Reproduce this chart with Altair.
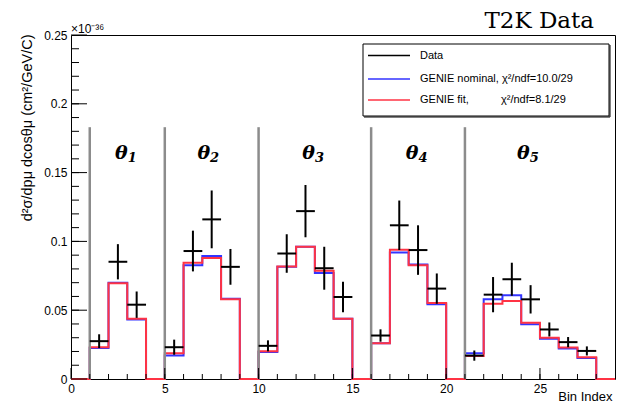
import altair as alt
import pandas as pd

# ---- data (units of 1e-36 cm^2/GeV/c) ----
bin_low = list(range(29))
data_val = [None, 0.0275, 0.0852, 0.0540, None,
            0.0231, 0.0930, 0.1160, 0.0815, None,
            0.0241, 0.0912, 0.1220, 0.0805, 0.0596, None,
            0.0316, 0.1117, 0.0937, 0.0657, None,
            0.0170, 0.0613, 0.0725, 0.0579, 0.0360, 0.0268, 0.0204, None]
data_err = [None, 0.0050, 0.0128, 0.0096, None,
            0.0055, 0.0148, 0.0210, 0.0130, None,
            0.0040, 0.0140, 0.0190, 0.0156, 0.0110, None,
            0.0045, 0.0180, 0.0180, 0.0110, None,
            0.0037, 0.0128, 0.0120, 0.0103, 0.0051, 0.0037, 0.0033, None]
nominal = [0, 0.0226, 0.0700, 0.0433, 0,
           0.0170, 0.0827, 0.0893, 0.0584, 0,
           0.0197, 0.0815, 0.0961, 0.0771, 0.0438, 0,
           0.0260, 0.0920, 0.0832, 0.0543, 0,
           0.0187, 0.0579, 0.0608, 0.0397, 0.0292, 0.0221, 0.0153, 0]
fit = [0, 0.0231, 0.0696, 0.0438, 0,
       0.0187, 0.0844, 0.0880, 0.0580, 0,
       0.0202, 0.0818, 0.0961, 0.0786, 0.0438, 0,
       0.0260, 0.0939, 0.0827, 0.0552, 0,
       0.0168, 0.0547, 0.0567, 0.0409, 0.0299, 0.0229, 0.0158, 0]
separators = [1, 5, 10, 16, 21]
separator_top = 0.183
theta_symbol = ["θ", "θ", "θ", "θ", "θ"]
theta_index = ["1", "2", "3", "4", "5"]
theta_x = [2.97, 7.36, 12.95, 18.47, 24.4]
theta_y = 0.160
x_major = [0, 5, 10, 15, 20, 25]
x_minor = list(range(1, 29))
y_major = [0, 0.05, 0.10, 0.15, 0.20, 0.25]
y_minor = [i / 100 for i in range(1, 25)]
legend_labels = ["Data", "GENIE nominal, χ²/ndf=10.0/29", "GENIE fit,"]
legend_extra = "χ²/ndf=8.1/29"

W, H = 544, 344
xs = alt.Scale(domain=[0, 29], nice=False, zero=False)
ys = alt.Scale(domain=[0, 0.25], nice=False)

edges = bin_low + [29]
hist = pd.DataFrame({
    "x": edges,
    "nominal": nominal + [nominal[-1]],
    "fit": fit + [fit[-1]],
})

pts = pd.DataFrame({"lo": bin_low, "val": data_val, "err": data_err}).dropna()
pts["hi"] = pts["lo"] + 1
pts["c"] = pts["lo"] + 0.5
pts["ylo"] = pts["val"] - pts["err"]
pts["yhi"] = pts["val"] + pts["err"]

xaxis = alt.Axis(values=x_major, format="d", ticks=False, domain=False, grid=False,
                 labelFont="Liberation Sans", labelFontSize=12, labelColor="black",
                 labelPadding=4, labelFlush=False,
                 title="Bin Index", titleFont="Liberation Sans", titleFontSize=13,
                 titleFontWeight="normal", titleColor="black",
                 titleAlign="right", titleBaseline="alphabetic", titleX=541, titleY=21)
yaxis = alt.Axis(values=y_major, format="~g", ticks=False, domain=False, grid=False,
                 labelFont="Liberation Sans", labelFontSize=12, labelColor="black",
                 labelPadding=4,
                 title="d²σ/dpμ dcosθμ (cm²/GeV/C)", titleFont="Liberation Sans",
                 titleFontSize=14.5, titleFontWeight="normal", titleColor="black",
                 titleAngle=270, titleAlign="right", titleBaseline="alphabetic",
                 titleX=-40, titleY=-1)

base = alt.Chart(hist)

blue = base.mark_line(interpolate="step-after", color="#3333ff", strokeWidth=2).encode(
    x=alt.X("x:Q", scale=xs, axis=xaxis),
    y=alt.Y("nominal:Q", scale=ys, axis=yaxis),
)
red = base.mark_line(interpolate="step-after", color="#ff3344", strokeWidth=2).encode(
    x=alt.X("x:Q", scale=xs),
    y=alt.Y("fit:Q", scale=ys),
)

sep = alt.Chart(pd.DataFrame({"x": separators})).mark_rule(color="#8c8c8c", strokeWidth=2.5).encode(
    x=alt.X("x:Q", scale=xs),
    y=alt.Y("y0:Q", scale=ys),
    y2="y1:Q",
).transform_calculate(y0="0", y1=str(separator_top))

hbar = alt.Chart(pts).mark_rule(color="black", strokeWidth=2).encode(
    x=alt.X("lo:Q", scale=xs), x2="hi:Q", y=alt.Y("val:Q", scale=ys))
vbar = alt.Chart(pts).mark_rule(color="black", strokeWidth=2).encode(
    x=alt.X("c:Q", scale=xs), y=alt.Y("ylo:Q", scale=ys), y2="yhi:Q")

theta_df = pd.DataFrame({"s": theta_symbol, "i": theta_index, "x": theta_x})
theta_sym = alt.Chart(theta_df).mark_text(
    font="DejaVu Serif", fontSize=19, fontWeight="bold", fontStyle="italic",
    color="black", baseline="alphabetic", align="right", dx=1).encode(
    x=alt.X("x:Q", scale=xs), y=alt.Y("y:Q", scale=ys), text="s:N"
).transform_calculate(y=str(theta_y))
theta_sub = alt.Chart(theta_df).mark_text(
    font="DejaVu Serif", fontSize=13, fontWeight="bold", fontStyle="italic",
    color="black", baseline="alphabetic", align="left", dx=1, dy=3).encode(
    x=alt.X("x:Q", scale=xs), y=alt.Y("y:Q", scale=ys), text="i:N"
).transform_calculate(y=str(theta_y))

xmaj = alt.Chart(pd.DataFrame({"x": x_major})).mark_rule(color="black", strokeWidth=1).encode(
    x=alt.X("x:Q", scale=xs), y=alt.value(H), y2=alt.value(H - 11))
xmin = alt.Chart(pd.DataFrame({"x": x_minor})).mark_rule(color="black", strokeWidth=1).encode(
    x=alt.X("x:Q", scale=xs), y=alt.value(H), y2=alt.value(H - 5))
ymaj = alt.Chart(pd.DataFrame({"y": y_major})).mark_rule(color="black", strokeWidth=1).encode(
    y=alt.Y("y:Q", scale=ys), x=alt.value(0), x2=alt.value(16))
ymin = alt.Chart(pd.DataFrame({"y": y_minor})).mark_rule(color="black", strokeWidth=1).encode(
    y=alt.Y("y:Q", scale=ys), x=alt.value(0), x2=alt.value(8))

one = pd.DataFrame({"k": [0]})
leg_box = alt.Chart(one).mark_rect(fill="white", stroke="black", strokeWidth=1).encode(
    x=alt.value(292), x2=alt.value(538), y=alt.value(9), y2=alt.value(81))
leg_shadow = alt.Chart(one).mark_rule(color="black", strokeWidth=1).encode(
    x=alt.value(539), x2=alt.value(539), y=alt.value(10), y2=alt.value(82))
leg_shadow2 = alt.Chart(one).mark_rule(color="black", strokeWidth=1).encode(
    x=alt.value(293), x2=alt.value(539), y=alt.value(82))

leg_layers = []
leg_colors = ["black", "#3333ff", "#ff3344"]
leg_y = [20.5, 44, 65]
for lab, col, yy in zip(legend_labels, leg_colors, leg_y):
    leg_layers.append(alt.Chart(one).mark_rule(color=col, strokeWidth=1.5).encode(
        x=alt.value(297), x2=alt.value(339), y=alt.value(yy)))
    leg_layers.append(alt.Chart(one).mark_text(
        text=lab, font="Liberation Sans", fontSize=11, align="left", baseline="middle",
        color="black").encode(x=alt.value(349), y=alt.value(yy)))
leg_layers.append(alt.Chart(one).mark_text(
    text=legend_extra, font="Liberation Sans", fontSize=11, align="left", baseline="middle",
    color="black").encode(x=alt.value(430), y=alt.value(leg_y[2])))

t2k = alt.Chart(one).mark_text(text="T2K Data", font="DejaVu Serif", fontSize=23,
                               align="right", baseline="alphabetic", color="black").encode(
    x=alt.value(523), y=alt.value(-7))
expo = alt.Chart(one).mark_text(text="×10⁻³⁶", font="Liberation Sans", fontSize=12,
                                align="left", baseline="alphabetic", color="black").encode(
    x=alt.value(0), y=alt.value(-2))

chart = alt.layer(
    blue, red, sep, hbar, vbar, theta_sym, theta_sub, xmaj, xmin, ymaj, ymin,
    leg_box, leg_shadow, leg_shadow2, *leg_layers, t2k, expo
).properties(
    width=W, height=H,
    padding={"left": 63, "top": 27, "right": 1, "bottom": 25},
    autosize=alt.AutoSizeParams(type="none"),
    background="white",
).configure_view(stroke="black", strokeWidth=1)

chart.save("out.html", embed_options={"renderer": "svg", "actions": False})
